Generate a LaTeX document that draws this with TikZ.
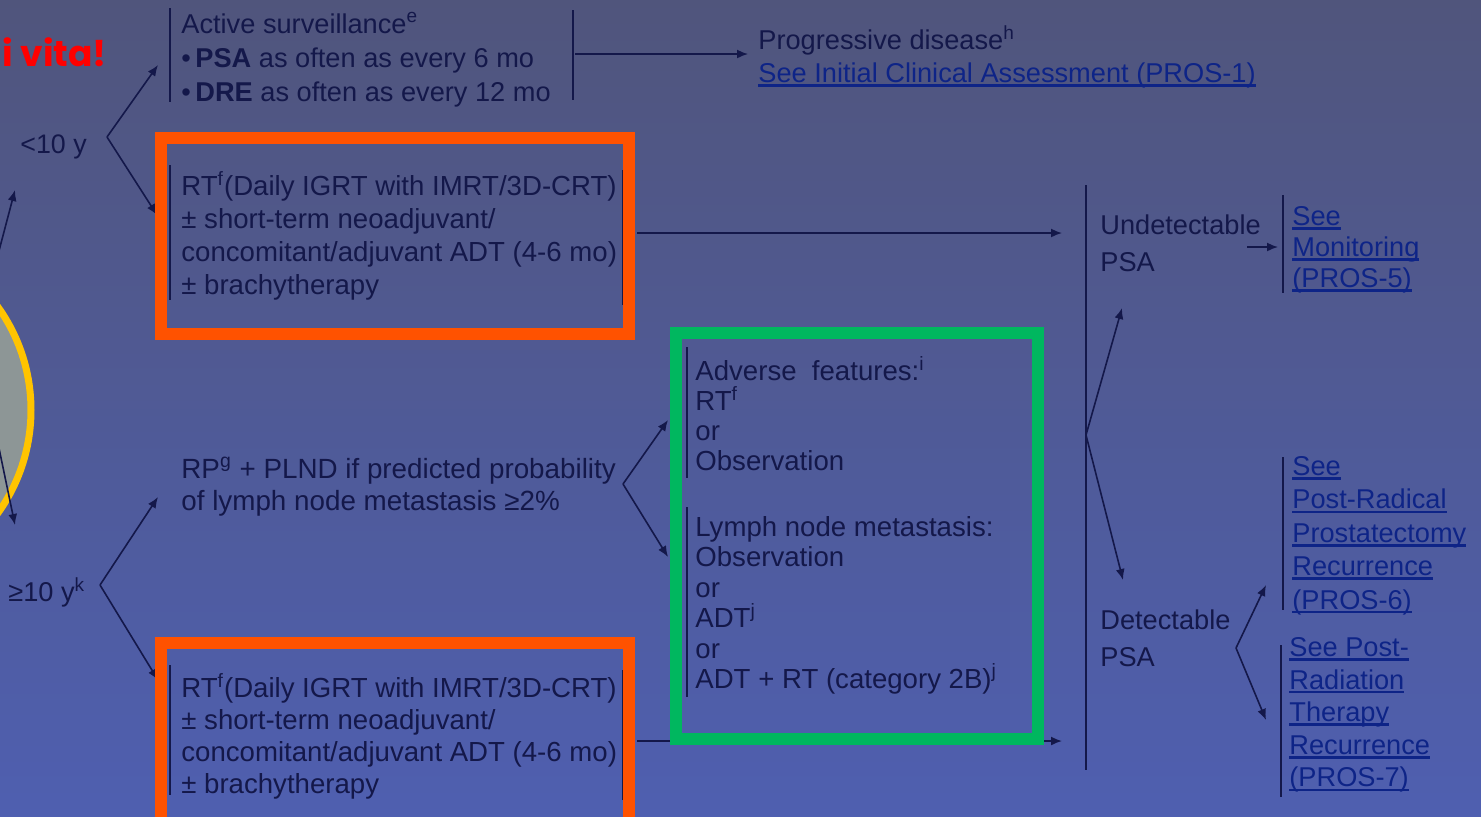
\documentclass[tikz,border=0pt]{standalone}
\usepackage{fontspec}
\setmainfont{Liberation Sans}
\newfontfamily\mottofont{Poppins}
\usepackage{tikz}
\usetikzlibrary{positioning, arrows.meta, calc}
\definecolor{navy}{HTML}{14184A}
\definecolor{linkblue}{HTML}{0E2487}
\definecolor{hiorange}{HTML}{FF5200}
\definecolor{higreen}{HTML}{00B75F}
\definecolor{ringgold}{HTML}{FFC400}
\definecolor{ringgray}{HTML}{8D9696}
\definecolor{bgtop}{HTML}{50557C}
\definecolor{bgbottom}{HTML}{4F5FB0}
\newcommand{\lnk}[1]{\setbox0\hbox{#1}\rlap{\rule[-2.2pt]{\wd0}{1.3pt}}\box0}

\begin{document}
\begin{tikzpicture}[x=0.5pt, y=-0.5pt,
    txt/.style={inner sep=0pt, anchor=north west, align=left, text=navy},
    linkbox/.style={txt, text=linkblue},
    bar/.style={navy, line width=1pt},
    arr/.style={navy, line width=0.8pt, -{Latex[length=5.5pt, width=4.5pt]}},
    hilite/.style={line width=6pt}]
  \path[use as bounding box] (0,0) rectangle (1481,816);
  \clip (0,0) rectangle (1481,816);
  \shade[top color=bgtop, bottom color=bgbottom] (0,0) rectangle (1481,816);

  % left edge of the slide
  \draw[ringgold, line width=3.5pt, fill=ringgray] (-146,410) circle[radius=88.5pt];
  \node[anchor=base east, text=red, font=\mottofont\bfseries\fontsize{18}{22}\selectfont] (motto) at (114,66) {i vita!};
  \coordinate (inA) at (-5,266);
  \coordinate (inAtip) at (15,190);
  \coordinate (inB) at (-5,429);
  \coordinate (inBtip) at (15,525);
  \draw[arr] (inA) -- (inAtip);
  \draw[arr] (inB) -- (inBtip);

  % age branches
  \node[txt, font=\fontsize{13.4}{16}\selectfont] (lt10) at (20,134) {<10 y};
  \node[txt, font=\fontsize{13.6}{16}\selectfont] (ge10) at (8,577) {≥10 y\textsuperscript{k}};

  % treatment options
  \node[txt, font=\fontsize{13.6}{17}\selectfont] (surv) at (181,12)
    {Active surveillance\textsuperscript{e}\\•\,\textbf{PSA} as often as every 6 mo\\•\,\textbf{DRE} as often as every 12 mo};
  \node[txt, font=\fontsize{13.6}{16.5}\selectfont] (prog) at (758,25)
    {Progressive disease\textsuperscript{h}\\\textcolor{linkblue}{\lnk{See Initial Clinical Assessment (PROS-1)}}};
  \node[txt, font=\fontsize{13.8}{16.5}\selectfont] (rt1) at (181,171)
    {RT\textsuperscript{f}(Daily IGRT with IMRT/3D-CRT)\\± short-term neoadjuvant/\\concomitant/adjuvant ADT (4-6 mo)\\± brachytherapy};
  \node[txt, font=\fontsize{13.9}{16}\selectfont] (rp) at (181,457)
    {RP\textsuperscript{g} + PLND if predicted probability\\of lymph node metastasis ≥2\%};
  \node[txt, font=\fontsize{13.8}{16}\selectfont] (rt2) at (181,673)
    {RT\textsuperscript{f}(Daily IGRT with IMRT/3D-CRT)\\± short-term neoadjuvant/\\concomitant/adjuvant ADT (4-6 mo)\\± brachytherapy};

  % after prostatectomy
  \node[txt, font=\fontsize{13.8}{15}\selectfont] (adverse) at (695,356)
    {Adverse\ \ features:\textsuperscript{i}\\RT\textsuperscript{f}\\or\\Observation};
  \node[txt, font=\fontsize{13.8}{15.2}\selectfont] (lymph) at (695,516)
    {Lymph node metastasis:\\Observation\\or\\ADT\textsuperscript{j}\\or\\ADT + RT (category 2B)\textsuperscript{j}};

  % PSA follow-up
  \node[txt, font=\fontsize{13.6}{18.5}\selectfont] (undet) at (1100,214) {Undetectable\\PSA};
  \node[txt, font=\fontsize{13.6}{18.5}\selectfont] (det) at (1100,609) {Detectable\\PSA};
  \node[linkbox, font=\fontsize{13.6}{15.5}\selectfont] (mon) at (1292,206)
    {\lnk{See}\\\lnk{Monitoring}\\\lnk{(PROS-5)}};
  \node[linkbox, font=\fontsize{13.6}{16.7}\selectfont] (rec6) at (1292,456)
    {\lnk{See}\\\lnk{Post-Radical}\\\lnk{Prostatectomy}\\\lnk{Recurrence}\\\lnk{(PROS-6)}};
  \node[linkbox, font=\fontsize{13.6}{16.3}\selectfont] (rec7) at (1289,637)
    {\lnk{See Post-}\\\lnk{Radiation}\\\lnk{Therapy}\\\lnk{Recurrence}\\\lnk{(PROS-7)}};

  % brackets
  \draw[bar] (170,8) -- (170,102);
  \draw[bar] (573,10) -- (573,100);
  \draw[bar] (170,165) -- (170,300);
  \draw[bar] (623,170) -- (623,305);
  \draw[bar] (170,665) -- (170,795);
  \draw[bar] (623,670) -- (623,800);
  \draw[bar] (687,347) -- (687,478);
  \draw[bar] (687,507) -- (687,697);
  \draw[bar] (1283,195) -- (1283,293);
  \draw[bar] (1283,457) -- (1283,610);
  \draw[bar] (1281,645) -- (1281,797);
  \coordinate (psatop) at (1086,185);
  \coordinate (psabot) at (1086,770);
  \draw[bar] (psatop) -- (psabot);

  % connectors
  \coordinate (young) at (107,137);
  \coordinate (old) at (100,585);
  \coordinate (afterrp) at (623,484);
  \coordinate (psasplit) at (1086,435);
  \coordinate (detsplit) at (1236,648);
  \draw[arr] (young) -- (158,65);
  \draw[arr] (young) -- (157,215);
  \draw[arr] (old) -- (158,497);
  \draw[arr] (old) -- (158,680);
  \draw[arr] (575,54) -- (748,54);
  \draw[arr] (637,233) -- (1062,233);
  \draw[arr] (637,741) -- (1062,741);
  \draw[arr] (afterrp) -- (668,420);
  \draw[arr] (afterrp) -- (668,557);
  \draw[arr] (psasplit) -- (1122,308);
  \draw[arr] (psasplit) -- (1123,580);
  \draw[arr] (1247,247) -- (1278,247);
  \draw[arr] (detsplit) -- (1266,585);
  \draw[arr] (detsplit) -- (1266,720);

  % highlight frames
  \draw[hilite, hiorange] (161,138) rectangle (629,334);
  \draw[hilite, hiorange] (161,643) rectangle (629,830);
  \draw[hilite, higreen] (676,333) rectangle (1038,739);
\end{tikzpicture}
\end{document}
